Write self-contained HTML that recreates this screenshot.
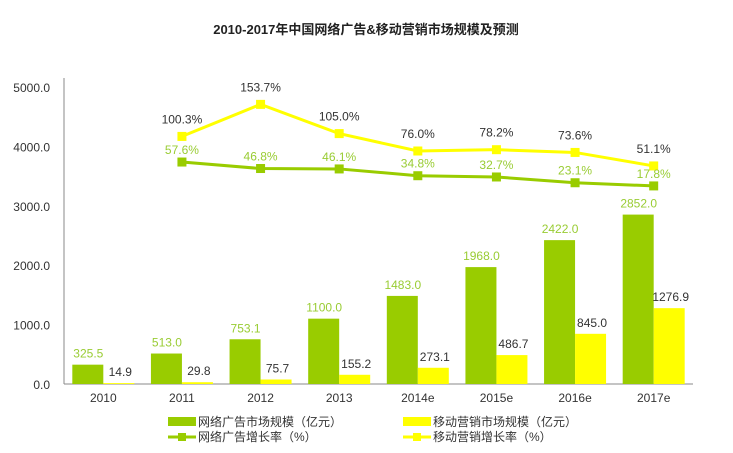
<!DOCTYPE html>
<html><head><meta charset="utf-8"><style>
body{margin:0;background:#fff;font-family:"Liberation Sans","Noto Sans CJK SC",sans-serif;}
svg text{font-family:"Liberation Sans","Noto Sans CJK SC",sans-serif;}
</style></head><body>
<svg id="c" width="733" height="448">
<text x="366" y="34" text-anchor="middle" font-size="13" font-weight="bold" fill="#222">2010-2017年中国网络广告&amp;移动营销市场规模及预测</text>
<line x1="64" y1="78" x2="64" y2="384" stroke="#888"/>
<line x1="64" y1="384" x2="693" y2="384" stroke="#888"/>
<g id="g"></g>
<g>
<rect x="168" y="417" width="28" height="9" fill="#99cc00"/>
<text x="198" y="426" font-size="12" fill="#333">网络广告市场规模（亿元）</text>
<line x1="168" y1="437" x2="196" y2="437" stroke="#99cc00" stroke-width="3"/>
<rect x="178" y="433" width="8" height="8" fill="#99cc00"/>
<text x="198" y="441" font-size="12" fill="#333">网络广告增长率（%）</text>
<rect x="403" y="417" width="28" height="9" fill="#ffff00"/>
<text x="433" y="426" font-size="12" fill="#333">移动营销市场规模（亿元）</text>
<line x1="403" y1="437" x2="431" y2="437" stroke="#ffff00" stroke-width="3"/>
<rect x="413" y="433" width="8" height="8" fill="#ffff00"/>
<text x="433" y="441" font-size="12" fill="#333">移动营销增长率（%）</text>
</g>
</svg>
<script>
const categories=["2010","2011","2012","2013","2014e","2015e","2016e","2017e"];
const netAd=[325.5,513.0,753.1,1100.0,1483.0,1968.0,2422.0,2852.0];
const mobile=[14.9,29.8,75.7,155.2,273.1,486.7,845.0,1276.9];
const netGrowth=[null,57.6,46.8,46.1,34.8,32.7,23.1,17.8];
const mobGrowth=[null,100.3,153.7,105.0,76.0,78.2,73.6,51.1];
const yTicks=[0,1000,2000,3000,4000,5000];
const NS="http://www.w3.org/2000/svg";
const g=document.getElementById('g');
const x0=64,x1=693,bw=(x1-x0)/categories.length;
const cx=i=>x0+bw*(i+0.5);
const y=v=>384-v*(297/5000);
const yp=p=>196.6-p*0.6;
function el(t,a){const e=document.createElementNS(NS,t);for(const k in a)e.setAttribute(k,a[k]);g.appendChild(e);return e;}
function txt(x,yy,s,fill,anchor,size){const e=el('text',{x:x,y:yy,fill:fill,'text-anchor':anchor||'middle','font-size':size||12});e.textContent=s;return e;}
yTicks.forEach(v=>{const t=txt(50,y(v)+5,v.toFixed(1),'#333','end',12);

});
categories.forEach((c,i)=>{
const t=txt(cx(i),402,c,'#333');


const b1=el('rect',{x:cx(i)-31,y:y(netAd[i]),width:31,height:384-y(netAd[i]),fill:'#99cc00'});


const b2=el('rect',{x:cx(i),y:y(mobile[i]),width:31,height:384-y(mobile[i]),fill:'#ffff00'});


const l1=txt(cx(i)-15,y(netAd[i])-7,netAd[i].toFixed(1),'#99cc33');


const l2=txt(cx(i)+17,y(mobile[i])-7,mobile[i].toFixed(1),'#333');


});
function line(data,color,name,lblColor,dy){
const pts=[];data.forEach((v,i)=>{if(v!==null)pts.push(cx(i)+','+yp(v));});
const p=el('polyline',{points:pts.join(' '),fill:'none',stroke:color,'stroke-width':3});


data.forEach((v,i)=>{if(v===null)return;
const m=el('rect',{x:cx(i)-4.5,y:yp(v)-4.5,width:9,height:9,fill:color});


const t=txt(cx(i),yp(v)+dy,v.toFixed(1)+'%',lblColor);

});
}
line(mobGrowth,'#ffff00','mobile-growth','#333',-13);
line(netGrowth,'#99cc00','net-ad-growth','#99cc33',-8);
</script>
</body></html>
